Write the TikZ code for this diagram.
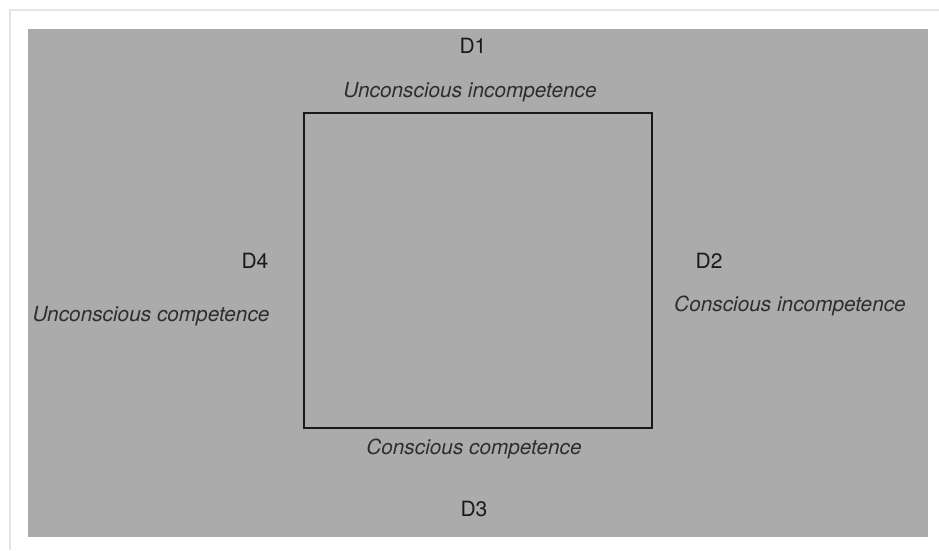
\documentclass[tikz,border=0pt]{standalone}
\usepackage{fontspec}
\setmainfont{TeX Gyre Heros}
\usepackage{tikz}
\usetikzlibrary{positioning}
\definecolor{panelgray}{HTML}{ABABAB}
\definecolor{inkgray}{HTML}{2E2E2E}
\tikzset{
    %Define style for the stage labels
    stage/.style={
           font=\fontsize{21}{23}\selectfont,
           text=black!90,
           inner sep=0pt,
           text centered},
    %Define style for the competence texts
    phase/.style={
           font=\fontsize{20.8}{22}\selectfont\itshape,
           text=inkgray,
           inner sep=0pt,
           text centered},
    %Define style for the square
    square/.style={
           rectangle,
           draw=black!90, line width=2.8pt,
           minimum width=348pt,
           minimum height=315pt}
}
\begin{document}
\begin{tikzpicture}[x=1pt,y=-1pt]
\useasboundingbox (0,0) rectangle (939,550);
 %card and panel
\fill[white] (0,0) rectangle (939,550);
\draw[black!10, line width=2pt] (10,550) -- (10,10) -- (939,10);
\fill[panelgray] (28,29) rectangle (928,537);
 %nodes
\node[square] (box) at (478,270.5) {};
\node[stage] (d1) at (473,46) {D1};
\node[stage] (d2) at (709,261) {D2};
\node[stage] (d3) at (474,509) {D3};
\node[stage] (d4) at (255,261) {D4};
\node[phase] (ui) at (470,92) {Unconscious incompetence};
\node[phase] (ci) at (790,306) {Conscious incompetence};
\node[phase] (cc) at (474,449) {Conscious competence};
\node[phase] (uc) at (151,316) {Unconscious competence};
\end{tikzpicture}
\end{document}
